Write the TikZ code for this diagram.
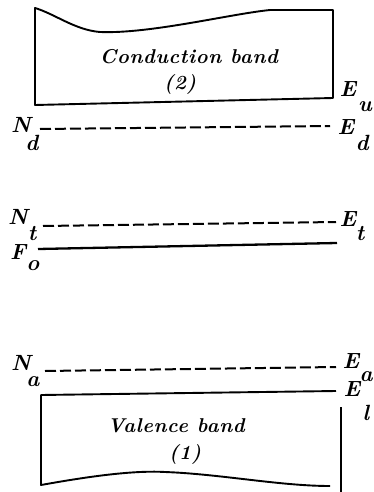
\documentclass[tikz,border=0pt]{standalone}
\usepackage{fontspec}
\setmainfont{Latin Modern Roman}
\begin{document}
\begin{tikzpicture}[x=1pt,y=-1pt,
  band/.style={line width=1.9pt,line join=round},
  level/.style={line width=2pt,dash pattern=on 11pt off 4pt},
  fermi/.style={line width=2.3pt},
  lbl/.style={font=\fontsize{22}{24}\selectfont\bfseries\itshape,inner sep=0pt},
  sub/.style={font=\fontsize{22}{24}\selectfont\bfseries\itshape,inner sep=0pt},
  txt/.style={font=\fontsize{20}{23}\selectfont\bfseries\itshape\addfontfeature{LetterSpace=3},inner sep=0pt}]
\useasboundingbox (0,0) rectangle (374,492);
% conduction band
\draw[band] (35,8) .. controls (55,14) and (75,30) .. (100,32)
  .. controls (150,34) and (230,14) .. (270,10) -- (333,10) -- (333,98)
  -- (35,105) -- cycle;
\node[txt] (cb) at (189,57) {Conduction band};
\node[txt] (cb2) at (180,84) {(2)};
\node[lbl] (Eu) at (348,89) {E};
\node[sub] (Eus) at (365,107) {u};
% donor level
\coordinate (nd1) at (40,129);
\coordinate (nd2) at (330,126);
\draw[level] (nd1) -- (nd2);
\node[lbl] (Nd) at (21,125) {N};
\node[sub] (Nds) at (32,143) {d};
\node[lbl] (Ed) at (346,127) {E};
\node[sub] (Eds) at (362,143) {d};
% trap level
\coordinate (nt1) at (43,226);
\coordinate (nt2) at (336,222);
\draw[level] (nt1) -- (nt2);
\node[lbl] (Nt) at (18,217) {N};
\node[sub] (Nts) at (32,234) {t};
\node[lbl] (Et) at (348,219) {E};
\node[sub] (Ets) at (360,234) {t};
% Fermi level
\coordinate (f1) at (38,249);
\coordinate (f2) at (337,243);
\draw[fermi] (f1) -- (f2);
\node[lbl] (Fo) at (18,252) {F};
\node[sub] (Fos) at (33,266) {o};
% acceptor level
\coordinate (na1) at (45,371);
\coordinate (na2) at (336,367);
\draw[level] (na1) -- (na2);
\node[lbl] (Na) at (21,363) {N};
\node[sub] (Nas) at (33,382) {a};
\node[lbl] (Ea) at (351,361) {E};
\node[sub] (Eas) at (366,377) {a};
% valence band
\draw[band] (336,391) -- (41,395) -- (41,485)
  .. controls (80,478) and (130,470) .. (165,472)
  .. controls (220,474) and (280,486) .. (330,486);
\draw[band] (341,407) -- (341,492);
\node[txt] (vb) at (176,426) {Valence band};
\node[txt] (vb2) at (185,454) {(1)};
\node[lbl] (El) at (352,389) {E};
\node[sub] (Els) at (366,413) {l};
\end{tikzpicture}
\end{document}
